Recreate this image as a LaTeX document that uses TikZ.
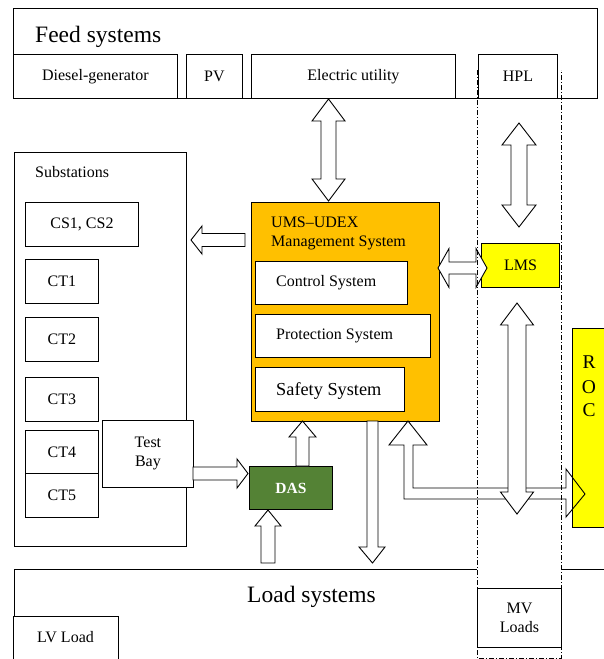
\documentclass[tikz,border=0pt]{standalone}
\usepackage{fontspec}
\setmainfont{Liberation Serif}
\definecolor{umsorange}{HTML}{FFC000}
\definecolor{lmsyellow}{HTML}{FFFF00}
\definecolor{dasgreen}{HTML}{548235}
\newcommand\VDArrow[6]{% cx, ytop, ybot, headhalf, shafthalf, headlen
  \draw[arr] (#1,#2) -- ({#1+#4},{#2+#6}) -- ({#1+#5},{#2+#6}) -- ({#1+#5},{#3-#6}) -- ({#1+#4},{#3-#6}) -- (#1,#3)
    -- ({#1-#4},{#3-#6}) -- ({#1-#5},{#3-#6}) -- ({#1-#5},{#2+#6}) -- ({#1-#4},{#2+#6}) -- cycle;}
\newcommand\HDArrow[6]{% cy, xleft, xright, headhalf, shafthalf, headlen
  \draw[arr] (#2,#1) -- ({#2+#6},{#1-#4}) -- ({#2+#6},{#1-#5}) -- ({#3-#6},{#1-#5}) -- ({#3-#6},{#1-#4}) -- (#3,#1)
    -- ({#3-#6},{#1+#4}) -- ({#3-#6},{#1+#5}) -- ({#2+#6},{#1+#5}) -- ({#2+#6},{#1+#4}) -- cycle;}
\begin{document}
\begin{tikzpicture}[x=1pt,y=-1pt,
  bx/.style={draw, line width=0.9pt, fill=white, inner sep=0pt, anchor=north west, align=center,
             font=\fontsize{16}{19}\selectfont},
  txt/.style={inner sep=0pt, font=\fontsize{16}{19}\selectfont},
  big/.style={inner sep=0pt, font=\fontsize{23.5}{28}\selectfont},
  arr/.style={draw, line width=0.9pt, fill=white, line join=miter},
  dd/.style={line width=0.9pt, dash pattern=on 5pt off 2pt on 1pt off 2pt}]
\useasboundingbox (0,0) rectangle (604,659);
\clip (0,0) rectangle (604,659);

% Feed systems
\node[bx, minimum width=584pt, minimum height=90pt] (feed) at (13,8) {};
\node[big, anchor=base west] (feedt) at (35,42) {Feed systems};
\node[bx, minimum width=164pt, minimum height=44pt] (diesel) at (13,54) {Diesel-generator};
\node[bx, minimum width=56pt, minimum height=44pt] (pv) at (186,54) {PV};
\node[bx, minimum width=204pt, minimum height=44pt] (eu) at (251,54) {Electric utility};
\node[bx, minimum width=79pt, minimum height=44pt] (hpl) at (478,54) {HPL};

% Substations
\node[bx, minimum width=172pt, minimum height=394pt] (subs) at (14,152) {};
\node[txt, anchor=base west] (subst) at (35,177) {Substations};
\node[bx, minimum width=113pt, minimum height=44pt] (cs) at (25,202) {CS1, CS2};
\node[bx, minimum width=73pt, minimum height=44pt] (ct1) at (25,259) {CT1};
\node[bx, minimum width=73pt, minimum height=44pt] (ct2) at (25,317) {CT2};
\node[bx, minimum width=73pt, minimum height=44pt] (ct3) at (25,377) {CT3};
\node[bx, minimum width=73pt, minimum height=43pt] (ct4) at (25,430) {CT4};
\node[bx, minimum width=73pt, minimum height=44pt] (ct5) at (25,473) {CT5};
\node[bx, minimum width=91pt, minimum height=67pt] (tb) at (102,420) {Test\\Bay};

% UMS
\node[bx, fill=umsorange, minimum width=188pt, minimum height=219pt] (ums) at (251,202) {};
\node[txt, anchor=base west] (umst1) at (271,227) {UMS–UDEX};
\node[txt, anchor=base west] (umst2) at (271,246) {Management System};
\node[bx, minimum width=152pt, minimum height=43pt] (ctrl) at (255,261) {};
\node[txt, anchor=base west] (ctrlt) at (276,286) {Control System};
\node[bx, minimum width=175pt, minimum height=43pt] (prot) at (255,314) {};
\node[txt, anchor=base west] (prott) at (276,339) {Protection System};
\node[bx, minimum width=149pt, minimum height=44pt] (safe) at (255,367) {};
\node[inner sep=0pt, font=\fontsize{18.3}{22}\selectfont, anchor=base west] (safet) at (276,395) {Safety System};

% LMS, ROC, DAS
\node[bx, fill=lmsyellow, minimum width=78pt, minimum height=44pt] (lms) at (481,243) {LMS};
\node[bx, fill=lmsyellow, minimum width=50pt, minimum height=199pt] (roc) at (572,328) {};
\node[inner sep=0pt, font=\fontsize{19.5}{24}\selectfont, anchor=base] (r) at (589,368.5) {R};
\node[inner sep=0pt, font=\fontsize{19.5}{24}\selectfont, anchor=base] (o) at (589,393.5) {O};
\node[inner sep=0pt, font=\fontsize{19.5}{24}\selectfont, anchor=base] (c) at (589,416.5) {C};
\node[bx, fill=dasgreen, text=white, font=\fontsize{15.5}{19}\selectfont\bfseries,
      minimum width=83pt, minimum height=43pt] (das) at (249,466) {DAS};

% Load systems
\draw[line width=0.9pt] (477,569) -- (14,569) -- (14,660);
\draw[line width=0.9pt] (561,569) -- (610,569);
\node[big, anchor=base] (loadt) at (311.5,602) {Load systems};
\node[bx, minimum width=105pt, minimum height=44pt] (lv) at (13,616) {};
\node[txt] (lvt) at (65.5,637) {LV Load};
\node[bx, minimum width=84pt, minimum height=59pt] (mv) at (477,588) {MV\\Loads};

% block arrows
\VDArrow{328.5}{99}{201}{16.5}{7.5}{22}
\VDArrow{519}{123}{227}{17}{8}{22}
\HDArrow{268}{438}{487}{19.5}{6}{11}
\draw[arr] (191,240) -- (202,226) -- (202,233.5) -- (245,233.5) -- (245,246.5) -- (202,246.5) -- (202,254) -- cycle;
\draw[arr] (193,467) -- (237,467) -- (237,459) -- (248,473.5) -- (237,488) -- (237,480) -- (193,480) -- cycle;
\draw[arr] (302.5,421) -- (316,437) -- (309,437) -- (309,466) -- (296,466) -- (296,437) -- (289,437) -- cycle;
\draw[arr] (268,510) -- (281,526) -- (275,526) -- (275,563) -- (261,563) -- (261,526) -- (255,526) -- cycle;
\draw[arr] (367,421) -- (378,421) -- (378,547) -- (385,547) -- (372.5,563) -- (359,547) -- (367,547) -- cycle;
\draw[arr, fill=none] (408,421) -- (427,445) -- (413,445) -- (413,488) -- (566,488) -- (566,469) -- (585,494)
   -- (566,517) -- (566,499) -- (404,499) -- (404,445) -- (389,445) -- cycle;
\VDArrow{517}{303}{514}{16.5}{9}{22}

% dash-dot region (open at the top)
\draw[dd] (477,70) -- (477,658) -- (561,658) -- (561,70);
\end{tikzpicture}
\end{document}
